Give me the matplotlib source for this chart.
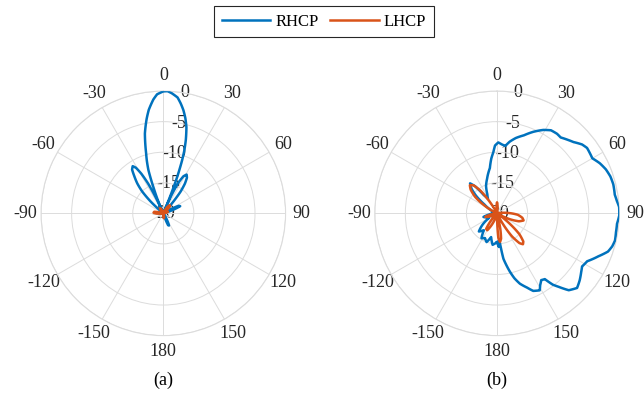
import numpy as np
import matplotlib
matplotlib.use('Agg')
import matplotlib.pyplot as plt
from matplotlib import rcParams

rcParams['font.family'] = 'Liberation Serif'
rcParams['font.size'] = 13

# ---- data (angle in deg, gain in dB) ----
a_rhcp_ang = [-180, -150, -120, -100, -90, -84, -78, -72, -55, -50, -47, -44, -41, -38, -35.5,
              -33, -31, -29, -27, -25.5, -24, -22.5, -21, -19, -17.3, -16, -13, -10, -8, -5,
              -3, 0, 2, 4, 7, 9, 11, 13, 15, 17, 18.5, 19.5, 20.8, 21.8, 22.8, 24, 26, 28.5,
              31, 33.5, 36, 38.5, 41, 43, 55, 60, 64, 67, 70, 75, 140, 150, 155, 158, 162,
              168, 180]
a_rhcp_db = [-20, -20, -20, -20, -19.4, -18.7, -19.2, -20, -20, -20, -17.2, -15, -13.5, -12.3, -11.2,
             -10.8, -11.3, -12.6, -14.6, -17, -20, -17.5, -15.8, -12.5, -10.9, -9.8, -6.6, -4.3, -2.9, -1.3,
             -0.5, -0.05, 0, -0.3, -0.9, -1.8, -2.8, -4.0, -5.4, -7.4, -9.2, -10.8, -13.5, -16.5, -20, -17, -14.5, -13.1,
             -12.6, -13, -14, -15.5, -18, -20, -20, -18.8, -17.2, -17, -18.3, -20, -20, -19, -17.8, -17.9, -19.5,
             -20, -20]

a_lhcp_ang = [-180, -120, -98, -92, -86, -80, -74, -45, -40, -34, -28, -22, -12, 0, 22, 30, 35,
              39, 43, 48, 55, 65, 72, 80, 160, 170, 176, 180]
a_lhcp_db = [-20, -20, -20, -18.9, -18.4, -18.5, -20, -20, -19.4, -19, -19.1, -19.6, -20, -20, -20, -19.1, -18.5,
             -18.3, -18.4, -19.3, -20, -19.5, -19.2, -20, -20, -19.3, -19.2, -20]

b_rhcp_ang = [-180, -172, -166, -160, -154, -148, -142, -135, -128, -120, -112, -105, -98, -90,
              -80, -70, -62, -55, -50, -46, -42, -39, -36, -32, -27, -22, -16, -12, -9, -6, -3.5,
              -1.7, 1, 4, 7, 10, 14, 19, 24, 29, 33, 37, 40, 44, 47, 51, 54, 57, 60, 64, 68,
              72, 76, 81, 84, 87, 91, 95, 99, 103, 106, 109, 113, 118, 122, 125, 129, 133,
              137, 140, 142, 144, 146.5, 149, 151, 155, 158, 162, 165, 167.5, 170, 172,
              173.5, 175, 177, 180]
b_rhcp_db = [-15.3, -14.8, -16, -15, -15.5, -15.2, -16.5, -15.8, -17, -18.5, -18.2, -17.7, -18.8, -19.2,
             -19.5, -19.5, -18.8, -17.5, -15.5, -14.2, -13.4, -14.3, -16.3, -17.2, -16.5, -15.2, -14.1, -13.2, -12.5, -11, -10,
             -8.9, -8.4, -8.7, -8.9, -8.1, -7.3, -6.5, -5.4, -4.4, -3.8, -3.7, -3.8, -3.3, -2.9, -2.1, -1.8, -1.9, -2.0, -1.3, -0.8,
             -0.5, -0.4, -0.5, -0.3, 0, 0, -0.3, -0.3, -0.2, -0.4, -0.8, -2.0, -3.3, -3.6, -3.2, -2.6, -2.1,
             -2.8, -4.3, -5.2, -6.7, -6.9, -6.3, -5.6, -6.0, -6.9, -7.9, -9.0, -10.2, -11.5, -12.5,
             -14.2, -15.6, -14.5, -15.3]

b_lhcp_ang = [-180, -165, -158, -150, -145, -140, -133, -118, -112, -107, -102, -95, -64, -58,
              -53, -48, -44, -40, -36, -32, -28, -8, -4, 0, 4, 8, 80, 88, 94, 100, 105, 110,
              115, 120, 125, 129, 133, 137, 140, 143, 147, 151, 155, 165, 168, 171, 174, 177,
              180]
b_lhcp_db = [-20, -20, -18.5, -16.8, -16.9, -18.5, -20, -20, -18.5, -18, -18.8, -20, -20, -17.5,
             -15.5, -14.2, -13.6, -14.0, -15.5, -18, -20, -20, -18.8, -18.2, -18.8, -20, -20, -18.2, -16.6, -15.8, -15.5, -16.2,
             -17.8, -20, -20, -17.5, -15, -13.7, -13.4, -13.9, -15.5, -18, -20, -20, -17.5, -15.8, -15.3, -16,
             -20]

theta_ticks = [0, 30, 60, 90, 120, 150, 180, 210, 240, 270, 300, 330]
theta_labels = ['0', '30', '60', '90', '120', '150', '180', '-150', '-120', '-90', '-60', '-30']
r_ticks = [-20, -15, -10, -5, 0]

BLUE = '#0072BD'
ORANGE = '#D95319'
GRID = '#dcdcdc'
TXT = '#262626'

fig = plt.figure(figsize=(6.44, 3.95), dpi=100)
rects = [[0.0636, 0.1504, 0.38, 0.619], [0.5818, 0.1504, 0.38, 0.619]]
panels = [(a_rhcp_ang, a_rhcp_db, a_lhcp_ang, a_lhcp_db, '(a)'),
          (b_rhcp_ang, b_rhcp_db, b_lhcp_ang, b_lhcp_db, '(b)')]

for rect, (ra, rd, la, ld, tag) in zip(rects, panels):
    ax = fig.add_axes(rect, projection='polar')
    ax.set_theta_zero_location('N')
    ax.set_theta_direction(-1)
    ax.set_ylim(-20, 0)
    ax.set_thetagrids(theta_ticks, theta_labels)
    ax.set_yticks(r_ticks)
    ax.set_yticklabels([])
    ax.grid(True, color=GRID, linewidth=0.7)
    ax.spines['polar'].set_color(GRID)
    ax.spines['polar'].set_linewidth(0.8)
    ax.tick_params(axis='x', pad=1, labelsize=13, colors=TXT)
    for r in r_ticks:
        ax.text(np.deg2rad(10), r, str(r), ha='center', va='center', fontsize=13, color=TXT, zorder=1)

    l1, = ax.plot(np.deg2rad(ra), rd, color=BLUE, linewidth=1.8, label='RHCP', zorder=3)
    l2, = ax.plot(np.deg2rad(la), ld, color=ORANGE, linewidth=1.8, label='LHCP', zorder=4)
    # draw segments as arcs in polar space, like a densely sampled pattern
    for ln in (l1, l2):
        ln.get_path()._interpolation_steps = 40

    cx = rect[0] + rect[2] / 2
    fig.text(cx, 1 - 380 / 395, tag, ha='center', va='center', fontsize=13)

leg = fig.legend([l1, l2], ['RHCP', 'LHCP'], loc='upper center', bbox_to_anchor=(0.503, 1 - 6 / 395),
                 ncol=2, fancybox=False, edgecolor=TXT, framealpha=1, fontsize=12,
                 handlelength=2.9, handletextpad=0.3, columnspacing=0.72, borderpad=0.45,
                 borderaxespad=0)
leg.get_frame().set_linewidth(0.8)

fig.savefig('out.png', dpi=100)
